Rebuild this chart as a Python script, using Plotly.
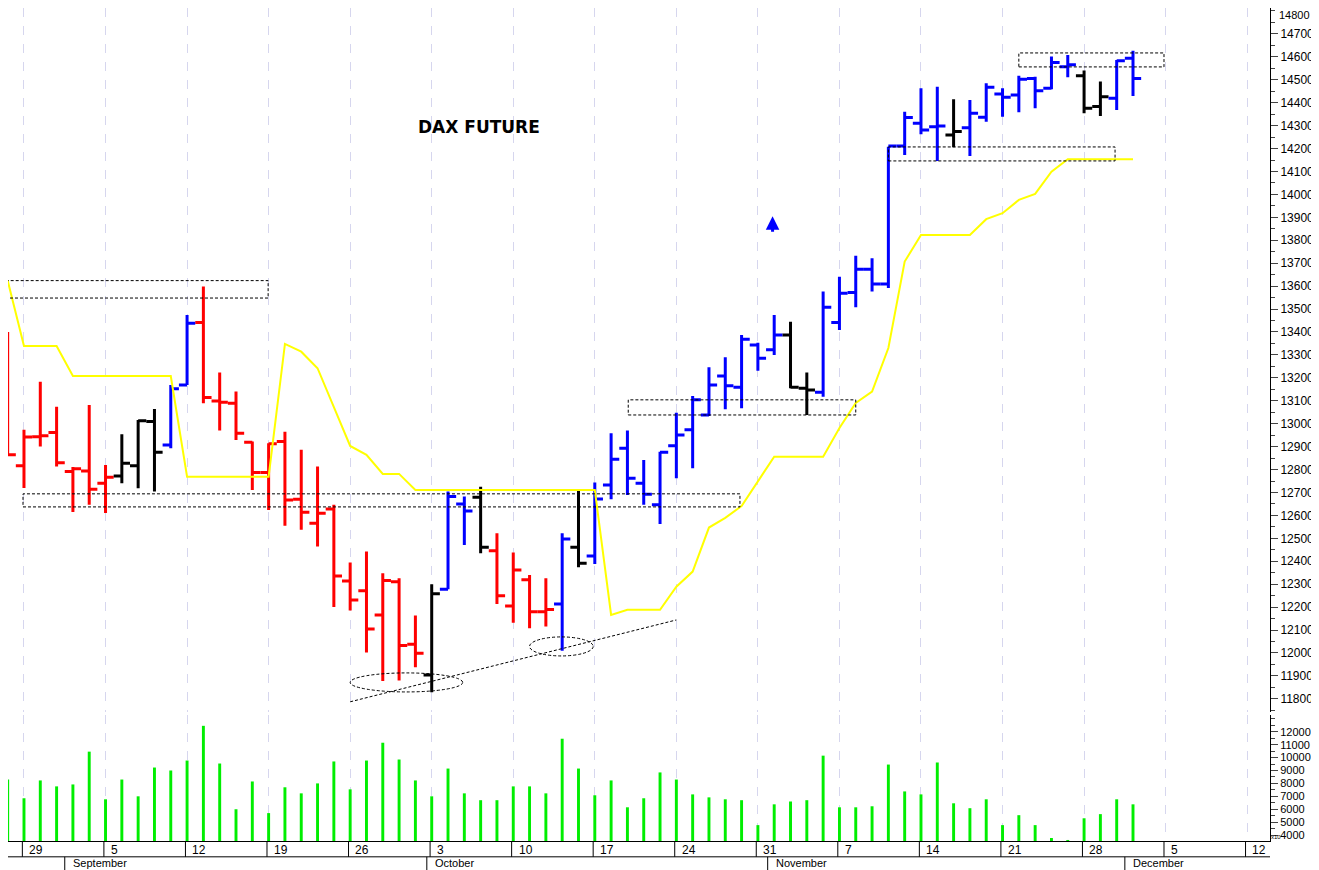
""" DAX future daily bars with volume """

import plotly.graph_objs as go

# trading day index: 0 = Monday 29 Aug 2022 (weekends left out)
day = list(range(-1, 69))

bar_open = [13345, 12816, 12943, 12961, 12791, 12794, 12740, 12772, 12816, 13009,
            12907, 13169, 13441, 13099, 13089, 12919, 12787, 12922, 12670, 12566,
            12628, 12314, 12271, 12166, 12311, 12038, 11904, 12278, 12650, 12679,
            12446, 12205, 12319, 12180, 12214, 12461, 12423, 12733, 12893, 12740,
            12646, 12904, 12973, 13038, 13208, 13159, 13343, 13322, 13387, 13155,
            13137, 13441, 13572, 13674, 13609, 14211, 14310, 14295, 14259, 14291,
            14336, 14438, 14434, 14506, 14463, 14557, 14517, 14383, 14419, 14594]
bar_high = [13400, 12973, 13183, 13074, 12811, 13082, 12820, 12954, 13016, 13064,
            13169, 13474, 13598, 13223, 13140, 12922, 12915, 12965, 12886, 12813,
            12646, 12394, 12442, 12348, 12326, 12163, 12300, 12704, 12682, 12725,
            12522, 12438, 12340, 12326, 12522, 12708, 12743, 12958, 12970, 12842,
            12878, 13048, 13121, 13246, 13290, 13387, 13353, 13474, 13445, 13223,
            13576, 13641, 13732, 13721, 14208, 14361, 14463, 14470, 14415, 14412,
            14485, 14463, 14518, 14513, 14601, 14608, 14540, 14492, 14586, 14627]
bar_low = [12865, 12720, 12900, 12813, 12615, 12646, 12610, 12740, 12718, 12704,
           12893, 13169, 13089, 12970, 12929, 12711, 12624, 12555, 12537, 12464,
           12200, 12185, 12002, 11878, 11880, 11938, 11829, 12278, 12471, 12435,
           12214, 12132, 12108, 12115, 12010, 12374, 12388, 12670, 12689, 12646,
           12563, 12762, 12806, 13034, 13063, 13067, 13231, 13300, 13155, 13038,
           13118, 13409, 13508, 13576, 13592, 14172, 14262, 14146, 14206, 14168,
           14317, 14339, 14358, 14376, 14459, 14511, 14354, 14342, 14368, 14429]
bar_close = [12865, 12942, 12947, 12830, 12803, 12714, 12766, 12827, 13013, 12875,
             13152, 13438, 13114, 13093, 12958, 12787, 12912, 12667, 12614, 12609,
             12336, 12231, 12105, 12316, 12032, 11999, 12258, 12682, 12619, 12461,
             12249, 12362, 12180, 12190, 12497, 12391, 12672, 12845, 12762, 12692,
             12875, 12951, 13104, 13169, 13165, 13368, 13285, 13387, 13159, 13147,
             13508, 13569, 13674, 13609, 14211, 14335, 14281, 14298, 14274, 14354,
             14467, 14424, 14502, 14452, 14575, 14565, 14376, 14426, 14583, 14506]
# r = red, k = black, b = blue
bar_color = ("rrrrrrr" "kkk" "bb" "rrrrrrrrrrrrrr" "k" "bb" "k" "rrrr" "b" "k"
             "bbbbbbbbbbbb" "kk" "bbbbbbbb" "k" "bbbbbbb" "kk" "bb")

stop_line = [13624, 13339, 13339, 13339, 13208, 13208, 13208, 13208, 13208, 13208,
             13208, 12769, 12769, 12769, 12769, 12769, 12769, 13348, 13314, 13242,
             13073, 12903, 12864, 12781, 12781, 12711, 12711, 12711, 12711, 12711,
             12711, 12711, 12711, 12711, 12711, 12711, 12711, 12166, 12188, 12188,
             12188, 12289, 12355, 12547, 12589, 12641, 12747, 12856, 12856, 12856,
             12856, 12981, 13090, 13140, 13330, 13707, 13823, 13823, 13823, 13823,
             13892, 13918, 13976, 14002, 14099, 14153, 14153, 14153, 14153, 14153]

volume = [8300, 6850, 8230, 7770, 7920, 10460, 6770, 8300, 7000, 9230,
          9000, 9770, 12460, 9540, 6000, 8150, 5700, 7700, 7230, 8000,
          9700, 7540, 9770, 11150, 9850, 8230, 7000, 9150, 7230, 6700,
          6700, 7770, 7770, 7230, 11460, 9150, 7080, 8230, 6150, 6850,
          8850, 8300, 7150, 6920, 6770, 6700, 4770, 6380, 6600, 6700,
          10150, 6150, 6150, 6230, 9460, 7380, 7150, 9620, 6460, 6080,
          6770, 4770, 5540, 4770, 3770, 3620, 5300, 5620, 6770, 6380]

monday_idx = [0, 5, 10, 15, 20, 25, 30, 35, 40, 45, 50, 55, 60, 65, 70, 75]
monday_txt = ["29", "5", "12", "19", "26", "3", "10", "17", "24", "31",
              "7", "14", "21", "28", "5", "12"]
month_idx = [2.8, 25, 45.9, 67.8]
month_txt = ["September", "October", "November", "December"]

colors = {"r": "#ff0000", "k": "#000000", "b": "#0000ff"}

fig = go.Figure()

for code, col in colors.items():
    sel = [n for n, c in enumerate(bar_color) if c == code]
    fig.add_trace(go.Ohlc(x=[day[n] for n in sel],
                          open=[bar_open[n] for n in sel],
                          high=[bar_high[n] for n in sel],
                          low=[bar_low[n] for n in sel],
                          close=[bar_close[n] for n in sel],
                          increasing=dict(line=dict(color=col, width=3)),
                          decreasing=dict(line=dict(color=col, width=3)),
                          tickwidth=0.5, hoverinfo="skip"))

fig.add_trace(go.Scatter(x=day, y=stop_line, mode="lines",
                         line=dict(color="#ffff00", width=2), hoverinfo="skip"))

fig.add_trace(go.Bar(x=day, y=volume, width=0.18, marker_color="#00ee00",
                     marker_line_width=0, yaxis="y2", hoverinfo="skip"))

# up arrow
fig.add_annotation(x=45.9, y=13905, ax=0, ay=17, text="", showarrow=True,
                   arrowhead=2, arrowsize=0.9, arrowwidth=3, arrowcolor="#0000ff")

dash = dict(color="black", width=1, dash="3px,2px")
for x0, x1, y0, y1 in [(-1.47, 14.97, 13548, 13624), (-0.06, 43.9, 12637, 12694),
                       (37.05, 51.0, 13038, 13104), (53.0, 66.9, 14146, 14207),
                       (61.0, 69.9, 14556, 14617)]:
    fig.add_shape(type="rect", x0=x0, x1=x1, y0=y0, y1=y1, line=dash)
for x0, x1, y0, y1 in [(20.0, 26.9, 11830, 11913), (31.0, 34.9, 11987, 12070)]:
    fig.add_shape(type="circle", x0=x0, x1=x1, y0=y0, y1=y1, line=dash)
fig.add_shape(type="line", x0=20.0, x1=40.0, y0=11787, y1=12144, line=dash)

# date axis rows
fig.add_shape(type="line", xref="paper", yref="paper", x0=0, x1=1, y0=-0.019,
              y1=-0.019, line=dict(color="black", width=1))
for m in monday_idx:
    fig.add_shape(type="line", xref="x", yref="paper", x0=m - 0.1, x1=m - 0.1,
                  y0=0, y1=-0.019, line=dict(color="black", width=1))
for m in month_idx:
    fig.add_shape(type="line", xref="x", yref="paper", x0=m - 0.3, x1=m - 0.3,
                  y0=-0.019, y1=-0.04, line=dict(color="black", width=1))

for m, t in zip(monday_idx, monday_txt):
    fig.add_annotation(x=m + 0.2, y=0.0, xref="x", yref="paper", text=t,
                       showarrow=False, xanchor="left", yanchor="top",
                       font=dict(size=12, color="black"))
for m, t in zip(month_idx, month_txt):
    fig.add_annotation(x=m + 0.1, y=-0.017, xref="x", yref="paper", text=t,
                       showarrow=False, xanchor="left", yanchor="top",
                       font=dict(size=11, color="black"))

fig.add_annotation(x=0.373, y=0.871, xref="paper", yref="paper", text="<b>DAX FUTURE</b>",
                   showarrow=False, font=dict(size=17, color="black", family="DejaVu Sans"))
fig.add_annotation(x=1.0, y=0.0, xref="paper", yref="paper", text="x10",
                   showarrow=False, xanchor="left", yanchor="bottom", borderpad=0,
                   font=dict(size=6, color="black"))
# top price label, dropped by the axis near the edge
fig.add_annotation(x=1.0, y=1.0, xref="paper", yref="paper", text="14800",
                   showarrow=False, xanchor="left", yanchor="top", xshift=8,
                   borderpad=0, font=dict(size=11, color="black"))

grid = dict(showgrid=True, gridcolor="#d6d6ee", griddash="dash", gridwidth=1)

fig.update_layout({
    "width": 1311, "height": 862,
    "margin": dict(l=0, r=49, t=0, b=29),
    "paper_bgcolor": "white", "plot_bgcolor": "white",
    "showlegend": False,
    "font": dict(family="Liberation Sans, Arial", size=12, color="black"),
    "xaxis": dict(range=[-0.98, 76.4], tickvals=monday_idx,
                  showticklabels=False, ticks="", rangeslider=dict(visible=False),
                  showline=True, linecolor="black", zeroline=False,
                  anchor="y2", **grid),
    "yaxis": dict(domain=[0.155, 1], range=[11743, 14813], side="right",
                  tickvals=list(range(11800, 14800, 100)), tickformat="d",
                  ticks="outside", ticklen=7,
                  showgrid=False, showline=True, linecolor="black", zeroline=False,
                  minor=dict(dtick=50, ticks="outside", ticklen=4)),
    "yaxis2": dict(domain=[0, 0.1513], range=[3540, 13300], side="right",
                   tickvals=list(range(4000, 13000, 1000)), tickformat="d",
                   tickfont=dict(size=11), ticks="outside",
                   ticklen=7, showgrid=False, showline=True, linecolor="black",
                   zeroline=False, anchor="x",
                   minor=dict(dtick=500, ticks="outside", ticklen=4)),
})

fig.write_html("out.html")
